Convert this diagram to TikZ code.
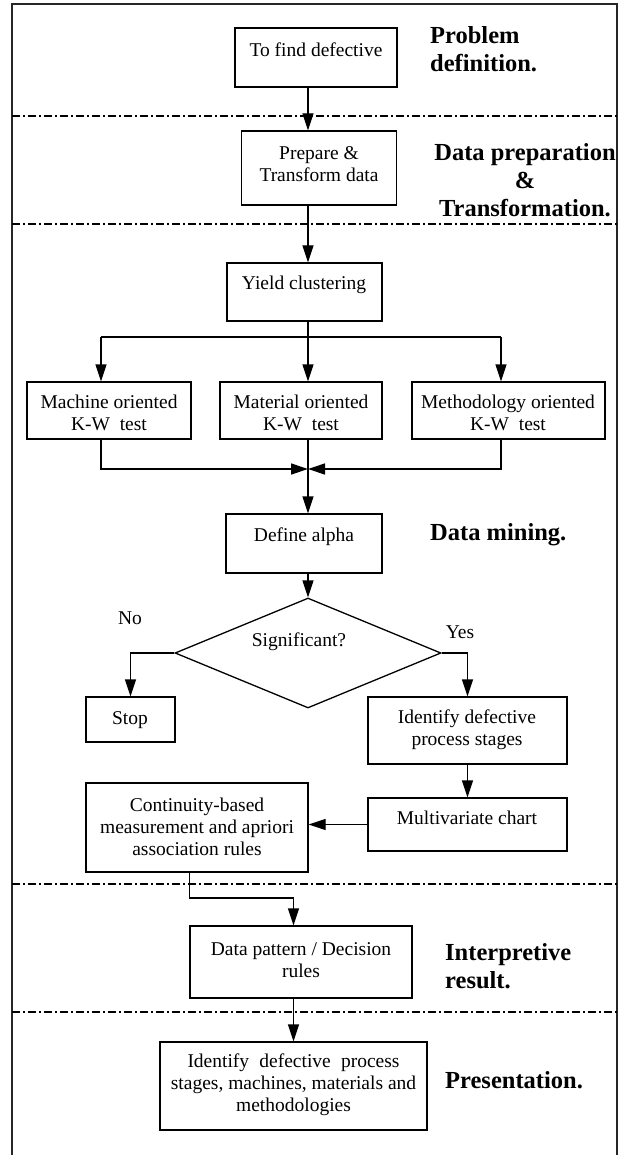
\documentclass[tikz,border=0pt]{standalone}
\usepackage{fontspec}
\setmainfont{Liberation Serif}
\usetikzlibrary{arrows.meta,shapes.geometric,calc}
\begin{document}
\begin{tikzpicture}[x=1pt,y=-1pt,
  box/.style={draw, line width=1.3pt, inner sep=0pt},
  txt/.style={font=\fontsize{19.5}{22}\selectfont, align=center, inner sep=0pt},
  lab/.style={font=\fontsize{24.5}{28}\selectfont\bfseries, inner sep=0pt},
  arr/.style={line width=1.3pt, -{Triangle[length=17pt,width=11pt]}},
  ln/.style={line width=1.3pt},
  sep/.style={line width=1.5pt, dash pattern=on 8pt off 3pt on 2pt off 3pt}]
\useasboundingbox (0,0) rectangle (619,1155);
% frame
\draw[line width=1.5pt, black!85] (12,1160) -- (12,4) -- (617,4) -- (617,1160);
% separators
\foreach \yy in {116,224,884,1012} \draw[sep] (12,\yy) -- (617,\yy);
% boxes
\node[box, minimum width=162pt, minimum height=59pt] (b1) at (316,57.5) {};
\node[box, minimum width=155pt, minimum height=74pt] (b2) at (319.3,168) {};
\node[box, minimum width=155pt, minimum height=58pt] (yc) at (304.5,292) {};
\node[box, minimum width=164pt, minimum height=57pt] (m1) at (109,410.5) {};
\node[box, minimum width=162pt, minimum height=57pt] (m2) at (301,410.5) {};
\node[box, minimum width=193pt, minimum height=57pt] (m3) at (508.5,410.5) {};
\node[box, minimum width=156pt, minimum height=59pt] (da) at (304,543.5) {};
\node[draw, diamond, line width=1.3pt, minimum width=266pt, minimum height=110pt, inner sep=0pt] (dec) at (308,653) {};
\node[box, minimum width=89pt, minimum height=45pt] (stop) at (130.5,719.5) {};
\node[box, minimum width=199pt, minimum height=67pt] (id) at (467.5,730.5) {};
\node[box, minimum width=199pt, minimum height=53pt] (mv) at (467.5,824.5) {};
\node[box, minimum width=222pt, minimum height=89pt] (cont) at (197,827.5) {};
\node[box, minimum width=222pt, minimum height=72pt] (dp) at (301,962) {};
\node[box, minimum width=267pt, minimum height=88pt] (fin) at (293.5,1086) {};
% texts
\node[txt] (t1) at (316,50) {To find defective};
\node[txt] (t2) at (319,164) {Prepare \&\\Transform data};
\node[txt] (tyc) at (304,285) {Yield clustering};
\node[txt] (tm1) at (109,413) {Machine oriented\\K-W\ \ test};
\node[txt] (tm2) at (301,413) {Material oriented\\K-W\ \ test};
\node[txt] (tm3) at (508,413) {Methodology oriented\\K-W\ \ test};
\node[txt] (tda) at (304,537) {Define alpha};
\node[txt] (tsig) at (299,642) {Significant?};
\node[txt] (tno) at (130,618) {No};
\node[txt] (tyes) at (460,632) {Yes};
\node[txt] (tstop) at (130,720) {Stop};
\node[txt] (tid) at (467,730) {Identify defective\\process stages};
\node[txt] (tmv) at (467,818) {Multivariate chart};
\node[txt] (tcont) at (197,827) {Continuity-based\\measurement and apriori\\association rules};
\node[txt] (tdp) at (301,960) {Data pattern / Decision\\rules};
\node[txt] (tfin) at (293.5,1085) {\makebox[212pt][s]{Identify defective process}\\stages, machines, materials and\\methodologies};
% stage labels
\node[lab, anchor=west, align=left] (l1) at (430,49) {Problem\\definition.};
\node[lab, align=center] (l2) at (525,180) {Data preparation\\\&\\Transformation.};
\node[lab, anchor=west] (l3) at (430,535) {Data mining.};
\node[lab, anchor=west, align=left] (l4) at (445,966) {Interpretive\\result.};
\node[lab, anchor=west] (l5) at (445,1080) {Presentation.};
% connectors
\coordinate (sp) at (308,0);
\coordinate (c1) at (101,0);
\coordinate (c3) at (501,0);
\coordinate (spl) at (0,337);
\coordinate (mg) at (0,469);
\coordinate (el) at (0,898);
\draw[arr] (b1.south -| sp) -- (b2.north -| sp);
\draw[arr] (b2.south -| sp) -- (yc.north -| sp);
\draw[ln] (yc.south -| sp) -- (sp |- spl);
\draw[ln] (c1 |- spl) -- (c3 |- spl);
\draw[arr] (c1 |- spl) -- (m1.north -| c1);
\draw[arr] (sp |- spl) -- (m2.north -| sp);
\draw[arr] (c3 |- spl) -- (m3.north -| c3);
\draw[arr] (m1.south -| c1) |- (sp |- mg);
\draw[arr] (m3.south -| c3) |- (sp |- mg);
\draw[arr] (m2.south -| sp) -- (da.north -| sp);
\draw[arr] (da.south -| sp) -- (dec.north);
\draw[arr] (dec.west) -| (stop.north);
\draw[arr] (dec.east) -| (id.north);
\draw[arr] (id.south) -- (mv.north);
\draw[arr] (mv.west) -- (mv.west -| cont.east);
\draw[arr] (cont.south -| dp.west) -- (el -| dp.west) -- (el -| fin.north) -- (dp.north -| fin.north);
\draw[arr] (dp.south -| fin.north) -- (fin.north);
\end{tikzpicture}
\end{document}
